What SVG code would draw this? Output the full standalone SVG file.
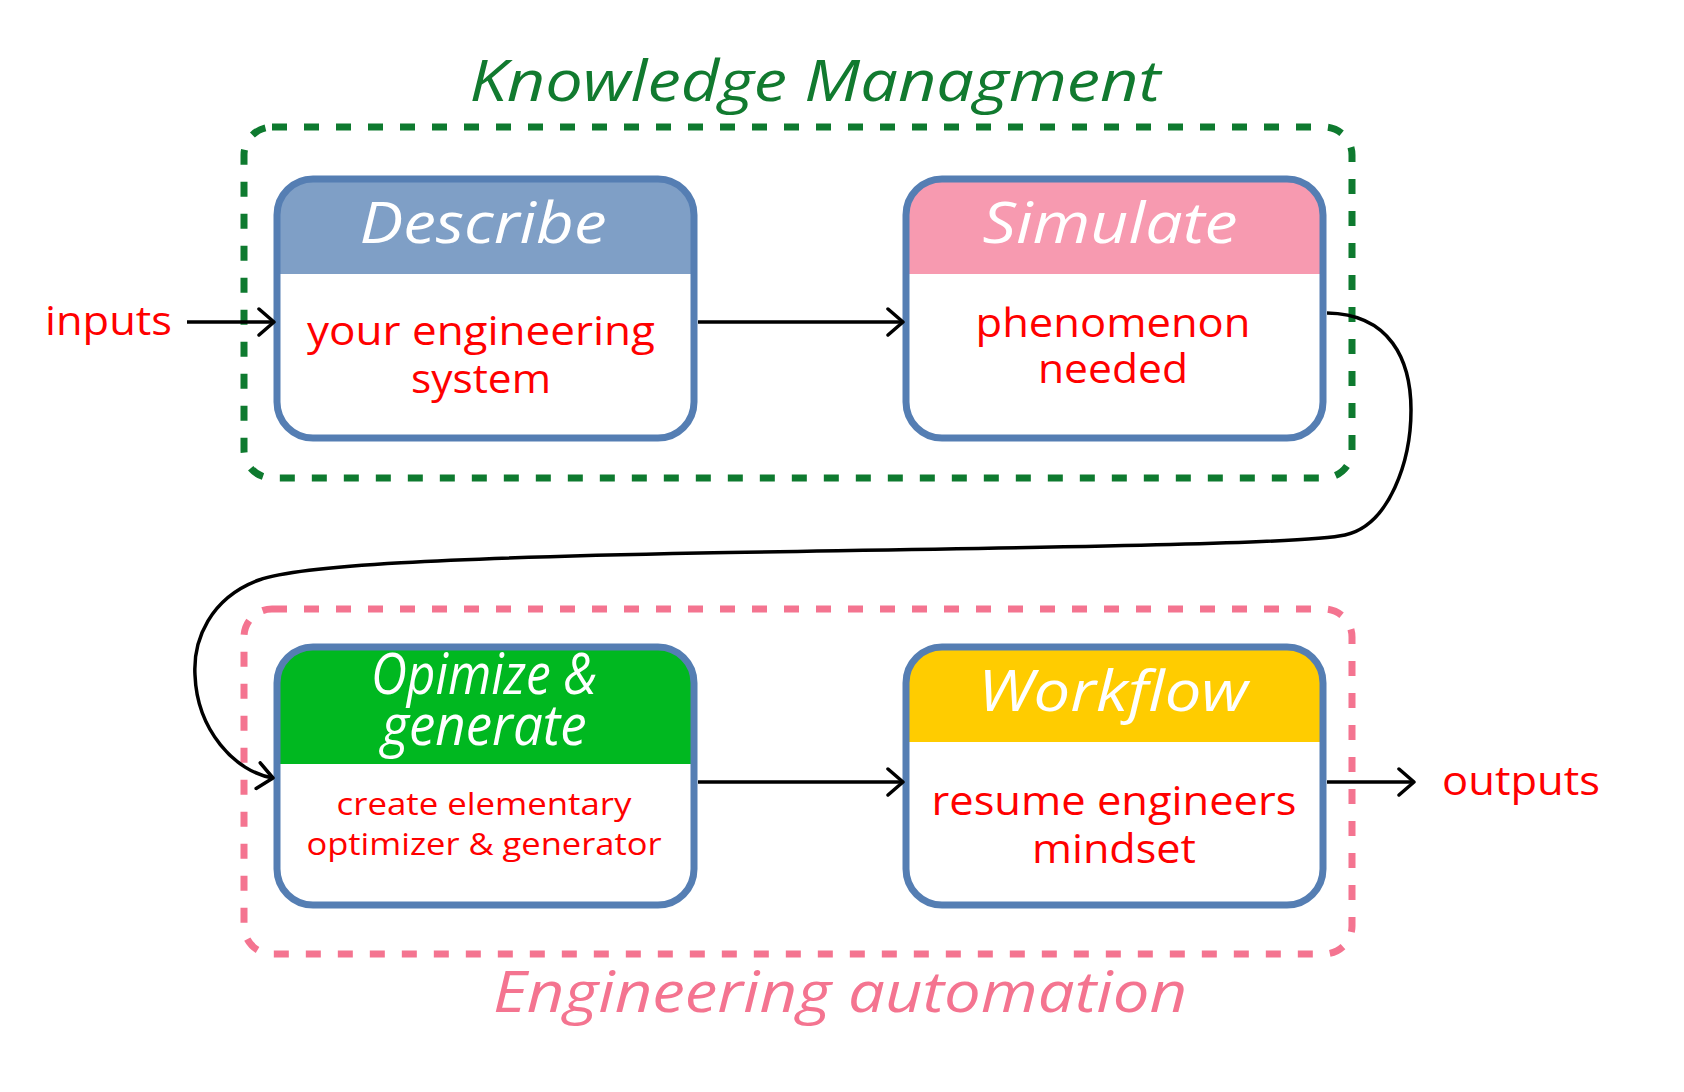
<svg xmlns="http://www.w3.org/2000/svg" width="1684" height="1092" viewBox="0 0 1684 1092">
<style>
  text { font-family: "Open Sans", "Noto Sans", "Liberation Sans", sans-serif; text-anchor: middle; }
  .title { font-style: italic; font-size: 56px; fill: #ffffff; }
  .body { font-size: 40px; fill: #ff0000; }
  .small { font-size: 31px; fill: #ff0000; }
  .box { fill: none; stroke: #557eb3; stroke-width: 7; }
  .bg { fill: #ffffff; }
  .grp { fill: none; stroke-width: 7; stroke-dasharray: 15 17; }
  .conn { fill: none; stroke: #000000; stroke-width: 3.5; marker-end: url(#arr); }
</style>
<defs>
  <marker id="arr" viewBox="0 0 20 30" refX="18" refY="15" markerWidth="20" markerHeight="30" markerUnits="userSpaceOnUse" orient="auto">
    <path d="M3,2 L18,15 L3,28" fill="none" stroke="#000000" stroke-width="3.5" stroke-linecap="round" stroke-linejoin="round"/>
  </marker>
</defs>
<rect width="1684" height="1092" fill="#ffffff"/>

<g id="group-knowledge">
  <rect class="grp" x="244" y="127" width="1108" height="351" rx="28" stroke="#0e7a2f"/>
  <text x="815" y="101" font-size="56" font-style="italic" fill="#117a2f" textLength="691" lengthAdjust="spacingAndGlyphs">Knowledge Managment</text>
</g>
<g id="group-automation">
  <rect class="grp" x="244" y="609" width="1108" height="345" rx="28" stroke="#f47490"/>
  <text x="840" y="1012" font-size="56" font-style="italic" fill="#f47490" textLength="694" lengthAdjust="spacingAndGlyphs">Engineering automation</text>
</g>

<g id="node-describe">
  <rect class="bg" x="277" y="179" width="417" height="259" rx="36"/>
  <path d="M277,274 V215 A36,36 0 0 1 313,179 H658 A36,36 0 0 1 694,215 V274 Z" fill="#7f9fc6"/>
  <rect class="box" x="277" y="179" width="417" height="259" rx="36"/>
  <text class="title" x="483" y="243" textLength="247" lengthAdjust="spacingAndGlyphs">Describe</text>
  <text class="body" x="481" y="345" textLength="348" lengthAdjust="spacingAndGlyphs">your engineering</text>
  <text class="body" x="481" y="393" textLength="140" lengthAdjust="spacingAndGlyphs">system</text>
</g>

<g id="node-simulate">
  <rect class="bg" x="906" y="179" width="417" height="259" rx="36"/>
  <path d="M906,274 V215 A36,36 0 0 1 942,179 H1287 A36,36 0 0 1 1323,215 V274 Z" fill="#f79ab0"/>
  <rect class="box" x="906" y="179" width="417" height="259" rx="36"/>
  <text class="title" x="1110" y="243" textLength="255" lengthAdjust="spacingAndGlyphs">Simulate</text>
  <text class="body" x="1113" y="337" textLength="275" lengthAdjust="spacingAndGlyphs">phenomenon</text>
  <text class="body" x="1113" y="383" textLength="150" lengthAdjust="spacingAndGlyphs">needed</text>
</g>

<g id="node-optimize">
  <rect class="bg" x="277" y="647" width="417" height="258" rx="36"/>
  <path d="M277,764 V683 A36,36 0 0 1 313,647 H658 A36,36 0 0 1 694,683 V764 Z" fill="#00b820"/>
  <rect class="box" x="277" y="647" width="417" height="258" rx="36"/>
  <text class="title" x="484" y="694" font-size="40" textLength="226" lengthAdjust="spacingAndGlyphs">Opimize &amp;</text>
  <text class="title" x="484" y="745" font-size="40" textLength="205" lengthAdjust="spacingAndGlyphs">generate</text>
  <text class="small" x="484" y="815" textLength="295" lengthAdjust="spacingAndGlyphs">create elementary</text>
  <text class="small" x="484" y="855" textLength="355" lengthAdjust="spacingAndGlyphs">optimizer &amp; generator</text>
</g>

<g id="node-workflow">
  <rect class="bg" x="906" y="647" width="417" height="258" rx="36"/>
  <path d="M906,742 V683 A36,36 0 0 1 942,647 H1287 A36,36 0 0 1 1323,683 V742 Z" fill="#ffcc00"/>
  <rect class="box" x="906" y="647" width="417" height="258" rx="36"/>
  <text class="title" x="1113" y="711" textLength="270" lengthAdjust="spacingAndGlyphs">Workflow</text>
  <text class="body" x="1114" y="815" textLength="365" lengthAdjust="spacingAndGlyphs">resume engineers</text>
  <text class="body" x="1114" y="863" textLength="164" lengthAdjust="spacingAndGlyphs">mindset</text>
</g>

<g id="node-inputs">
  <text class="body" x="45" y="335" style="text-anchor:start" textLength="127" lengthAdjust="spacingAndGlyphs">inputs</text>
</g>
<g id="node-outputs">
  <text class="body" x="1442" y="795" style="text-anchor:start" textLength="158" lengthAdjust="spacingAndGlyphs">outputs</text>
</g>

<g id="connectors">
  <path class="conn" d="M187,322 H274"/>
  <path class="conn" d="M698,322 H903"/>
  <path class="conn" d="M1327,313 C1390,314 1411,360 1411,410 C1411,460 1390,525 1345,535 C1300,545 1000,548 700,553 C450,558 300,565 259,580 C210,598 193,640 195,675 C197,730 235,772 273,778"/>
  <path class="conn" d="M698,782 H903"/>
  <path class="conn" d="M1327,782 H1414"/>
</g>
</svg>
